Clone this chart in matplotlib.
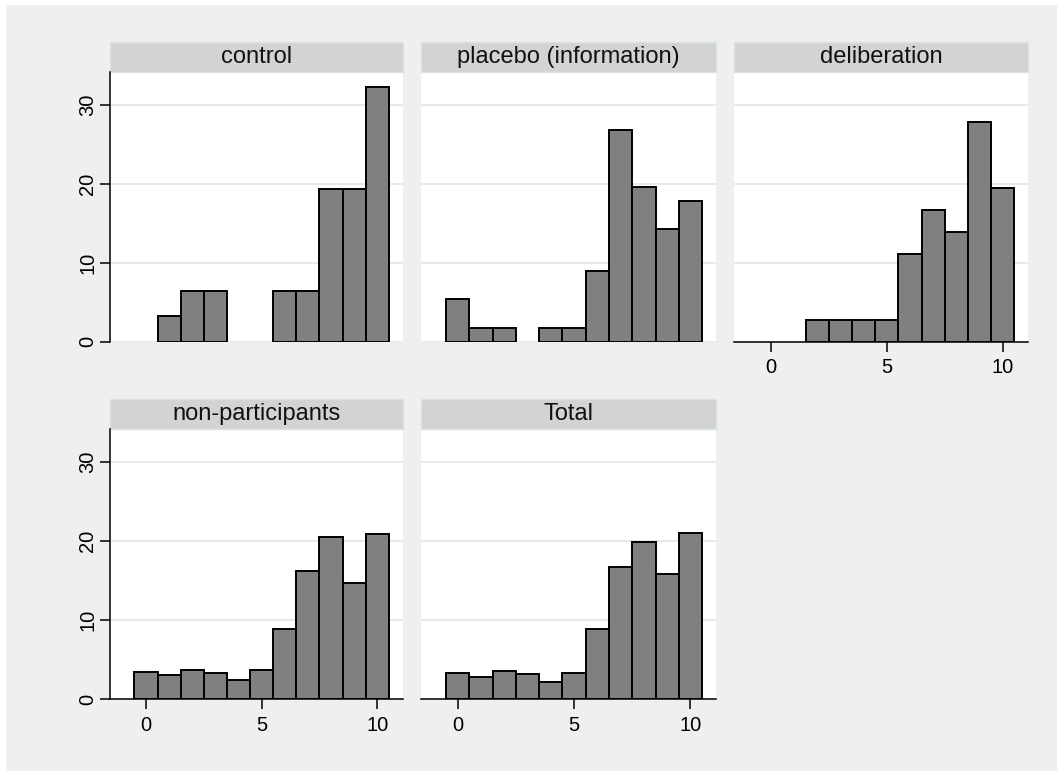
import matplotlib.pyplot as plt
from matplotlib.patches import Rectangle

plt.rcParams['font.family'] = ['Liberation Sans', 'DejaVu Sans']

# percent of respondents per score (0..10)
scores = [0, 1, 2, 3, 4, 5, 6, 7, 8, 9, 10]
control = [0, 3.23, 6.45, 6.45, 0, 0, 6.45, 6.45, 19.35, 19.35, 32.26]
placebo = [5.36, 1.79, 1.79, 0, 1.79, 1.79, 8.93, 26.79, 19.64, 14.29, 17.86]
deliberation = [0, 0, 2.78, 2.78, 2.78, 2.78, 11.11, 16.67, 13.89, 27.78, 19.44]
non_participants = [3.40, 3.03, 3.66, 3.24, 2.35, 3.66, 8.79, 16.2, 20.5, 14.7, 20.9]
total = [3.24, 2.74, 3.57, 3.11, 2.19, 3.24, 8.87, 16.7, 19.9, 15.8, 21.05]

titles = ['control', 'placebo (information)', 'deliberation', 'non-participants', 'Total']
series = [control, placebo, deliberation, non_participants, total]
y_ticks = [0, 10, 20, 30]
x_ticks = [0, 5, 10]

W, H = 1057, 771
bg = '#efefef'
fig = plt.figure(figsize=(W / 100, H / 100), dpi=100)
fig.patch.set_facecolor('white')
fig.add_artist(Rectangle((6 / W, 0), 1 - 6 / W, (H - 5) / H, transform=fig.transFigure,
                         facecolor=bg, edgecolor='none', zorder=-10))

cols = [(109.7, 402.7), (421.3, 716.0), (734.3, 1028.3)]
rows = [(72.3, 341.7), (429.3, 699.0)]
strip_h = 30

for i, (title, vals) in enumerate(zip(titles, series)):
    r, c = divmod(i, 3)
    x0, x1 = cols[c]
    top, bot = rows[r]
    ax = fig.add_axes([x0 / W, 1 - bot / H, (x1 - x0) / W, (bot - top) / H])
    ax.set_facecolor('white')

    xs = [s for s, v in zip(scores, vals) if v > 0]
    hs = [v for v in vals if v > 0]
    ax.bar(xs, hs, width=1.0, color='#808080', edgecolor='black', linewidth=1.4, zorder=3)

    ax.set_xlim(-1.57, 11.1)
    ax.set_ylim(0, 34.1)
    for yv in y_ticks:
        ax.axhline(yv, color='#e6e6e6', linewidth=1.3, zorder=1)

    for s in ax.spines.values():
        s.set_visible(False)

    if c == 0:
        ax.spines['left'].set_visible(True)
        ax.spines['left'].set_linewidth(1.1)
        ax.set_yticks(y_ticks)
        ax.set_yticklabels([str(t) for t in y_ticks], rotation=90, va='center', fontsize=14.5)
        ax.tick_params(axis='y', length=7, width=1.1, pad=2)
    else:
        ax.set_yticks([])

    show_x = (r == 1) or (i == 2)
    if show_x:
        ax.spines['bottom'].set_visible(True)
        ax.spines['bottom'].set_linewidth(1.1)
        ax.set_xticks(x_ticks)
        ax.set_xticklabels([str(t) for t in x_ticks], fontsize=14.5)
        ax.tick_params(axis='x', length=7, width=1.1, pad=5)
    else:
        ax.set_xticks([])

    # strip title
    sh = strip_h / (bot - top)
    ax.add_patch(Rectangle((0, 1), 1, sh, transform=ax.transAxes, clip_on=False,
                           facecolor='#d3d3d3', edgecolor='#d8e4ea', linewidth=1.0))
    ax.text(0.5, 1 + sh / 2, title, transform=ax.transAxes, ha='center', va='center',
            fontsize=17, color='#111111')

plt.savefig('out.png', dpi=100, facecolor=fig.get_facecolor())
